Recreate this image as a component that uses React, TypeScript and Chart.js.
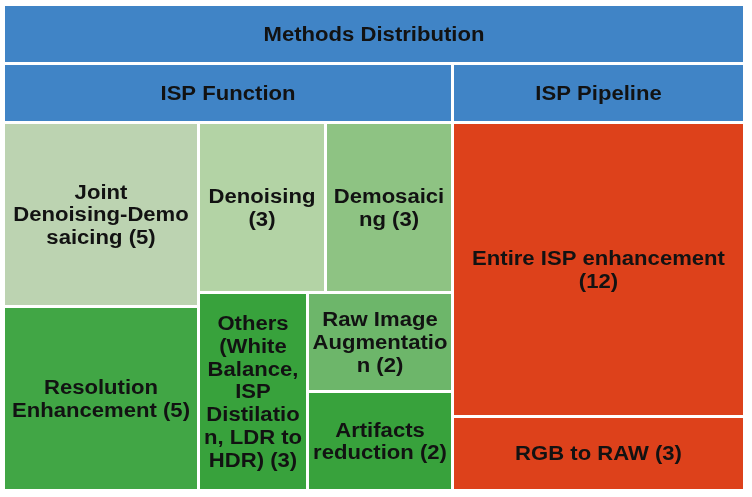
import { useEffect, useRef } from "react";
import { Chart, registerables } from "chart.js";

Chart.register(...registerables);

// ---- data ----
const rootLabel = "Methods Distribution";
const groupLabels = ["ISP Function", "ISP Pipeline"];
const leafLabels = [
  "Joint Denoising-Demosaicing",
  "Resolution Enhancement",
  "Denoising",
  "Demosaicing",
  "Others (White Balance, ISP Distilation, LDR to HDR)",
  "Raw Image Augmentation",
  "Artifacts reduction",
  "Entire ISP enhancement",
  "RGB to RAW",
];
const leafParents = [0, 0, 0, 0, 0, 0, 0, 1, 1];
const leafValues = [5, 5, 3, 3, 3, 2, 2, 12, 3];

// ---- styles ----
const headerColor = "#4084c6";
const leafColors = [
  "#bcd3b1",
  "#41a645",
  "#b3d3a5",
  "#8ec383",
  "#38a23c",
  "#6db66a",
  "#38a23c",
  "#dd411b",
  "#dd411b",
];
const TEXT_COLOR = "#121212";
const FONT_SIZE = 19.5;
const HSCALE = 1.133;
const LINE_H = 22.7;
const HEADER_H = 59;
const INSET = 1.5;
const TEXT_PAD = 2.75;
const W = 741;
const H = 486;

type Rect = { x0: number; y0: number; x1: number; y1: number };

function squarify(values: number[], r: Rect): Rect[] {
  const order = values.map((v, i) => i).sort((a, b) => values[b] - values[a] || a - b);
  const out: Rect[] = new Array(values.length);
  let { x0, y0, x1, y1 } = r;
  let value = values.reduce((s, v) => s + v, 0);
  let i0 = 0;
  let i1 = 0;
  const n = order.length;
  while (i0 < n) {
    const dx = x1 - x0;
    const dy = y1 - y0;
    let sumValue = values[order[i1++]];
    let minValue = sumValue;
    let maxValue = sumValue;
    const alpha = Math.max(dy / dx, dx / dy) / value;
    let beta = sumValue * sumValue * alpha;
    let minRatio = Math.max(maxValue / beta, beta / minValue);
    for (; i1 < n; ++i1) {
      const nv = values[order[i1]];
      sumValue += nv;
      if (nv < minValue) minValue = nv;
      if (nv > maxValue) maxValue = nv;
      beta = sumValue * sumValue * alpha;
      const newRatio = Math.max(maxValue / beta, beta / minValue);
      if (newRatio > minRatio) {
        sumValue -= nv;
        break;
      }
      minRatio = newRatio;
    }
    const row = order.slice(i0, i1);
    if (dx < dy) {
      const ny = y0 + (dy * sumValue) / value;
      let cx = x0;
      row.forEach((idx) => {
        const w = (dx * values[idx]) / sumValue;
        out[idx] = { x0: cx, y0, x1: cx + w, y1: ny };
        cx += w;
      });
      y0 = ny;
    } else {
      const nx = x0 + (dx * sumValue) / value;
      let cy = y0;
      row.forEach((idx) => {
        const h = (dy * values[idx]) / sumValue;
        out[idx] = { x0, y0: cy, x1: nx, y1: cy + h };
        cy += h;
      });
      x0 = nx;
    }
    value -= sumValue;
    i0 = i1;
  }
  return out;
}

function wrapText(text: string, maxW: number, measure: (s: string) => number): string[] {
  const words = text.split(" ");
  const lines: string[] = [];
  let cur = "";
  const breakWord = (word: string) => {
    let rest = word;
    while (measure(rest) > maxW && rest.length > 1) {
      let k = rest.length - 1;
      while (k > 1 && measure(rest.slice(0, k)) > maxW) k--;
      lines.push(rest.slice(0, k));
      rest = rest.slice(k);
    }
    return rest;
  };
  for (const w of words) {
    if (!cur) {
      cur = measure(w) > maxW ? breakWord(w) : w;
      continue;
    }
    const cand = cur + " " + w;
    if (measure(cand) <= maxW) {
      cur = cand;
      continue;
    }
    lines.push(cur);
    cur = measure(w) > maxW ? breakWord(w) : w;
  }
  if (cur) lines.push(cur);
  return lines;
}

const treemapPlugin = {
  id: "treemapCells",
  afterDatasetsDraw(chart: any) {
    const ctx: CanvasRenderingContext2D = chart.ctx;
    const xs = chart.scales.x;
    const ys = chart.scales.y;
    const font = `bold ${FONT_SIZE}px "Liberation Sans", Arial, sans-serif`;
    ctx.save();
    ctx.font = font;
    const measure = (s: string) => ctx.measureText(s).width * HSCALE;
    const capH = FONT_SIZE * 0.716;

    const drawCell = (r: Rect, color: string, label: string, wrap: boolean) => {
      const px0 = Math.round(xs.getPixelForValue(r.x0) + INSET);
      const px1 = Math.round(xs.getPixelForValue(r.x1) - INSET);
      const py0 = Math.round(ys.getPixelForValue(r.y0) + INSET);
      const py1 = Math.round(ys.getPixelForValue(r.y1) - INSET);
      ctx.fillStyle = color;
      ctx.fillRect(px0, py0, px1 - px0, py1 - py0);
      const maxW = px1 - px0 - TEXT_PAD * 2;
      const lines = wrap ? wrapText(label, maxW, measure) : [label];
      const cx = (px0 + px1) / 2;
      const cy = (py0 + py1) / 2;
      ctx.fillStyle = TEXT_COLOR;
      ctx.textAlign = "center";
      ctx.textBaseline = "alphabetic";
      lines.forEach((line, i) => {
        const by = cy - ((lines.length - 1) * LINE_H) / 2 + i * LINE_H + capH / 2;
        ctx.save();
        ctx.translate(cx, by);
        ctx.scale(HSCALE, 1);
        ctx.fillText(line, 0, 0);
        ctx.restore();
      });
    };

    const root: Rect = { x0: 0, y0: 0, x1: W, y1: H };
    drawCell({ ...root, y1: root.y0 + HEADER_H }, headerColor, rootLabel, false);
    const groupValues = groupLabels.map((_, g) =>
      leafValues.reduce((s, v, i) => (leafParents[i] === g ? s + v : s), 0)
    );
    const groupRects = squarify(groupValues, { ...root, y0: root.y0 + HEADER_H });
    groupRects.forEach((gr, g) => {
      drawCell({ ...gr, y1: gr.y0 + HEADER_H }, headerColor, groupLabels[g], false);
      const idxs = leafParents.map((p, i) => (p === g ? i : -1)).filter((i) => i >= 0);
      const rects = squarify(
        idxs.map((i) => leafValues[i]),
        { ...gr, y0: gr.y0 + HEADER_H }
      );
      rects.forEach((lr, k) => {
        const i = idxs[k];
        drawCell(lr, leafColors[i], `${leafLabels[i]} (${leafValues[i]})`, true);
      });
    });
    ctx.restore();
  },
};

export default function App() {
  const ref = useRef<HTMLCanvasElement | null>(null);
  useEffect(() => {
    if (!ref.current) return;
    const chart = new Chart(ref.current, {
      type: "scatter",
      data: { datasets: [{ data: [], pointRadius: 0 }] },
      options: {
        animation: false,
        responsive: false,
        devicePixelRatio: 1,
        layout: { padding: { left: 3.5, top: 4.5, right: 7.5, bottom: 6.5 } },
        scales: {
          x: { type: "linear", min: 0, max: W, display: false },
          y: { type: "linear", min: 0, max: H, reverse: true, display: false },
        },
        plugins: { legend: { display: false }, tooltip: { enabled: false } },
      },
      plugins: [treemapPlugin],
    });
    return () => chart.destroy();
  }, []);
  return (
    <div style={{ position: "fixed", left: 0, top: 0, width: 752, height: 497, background: "#fff" }}>
      <canvas ref={ref} width={752} height={497} />
    </div>
  );
}
